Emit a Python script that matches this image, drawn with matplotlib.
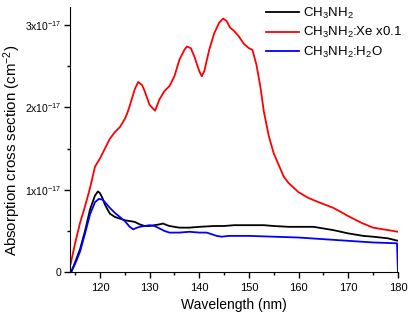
import numpy as np
import matplotlib.pyplot as plt
from matplotlib.ticker import MultipleLocator, FixedLocator

plt.rcParams['font.family'] = ['Liberation Sans', 'DejaVu Sans']
plt.rcParams['mathtext.fontset'] = 'custom'
plt.rcParams['mathtext.rm'] = 'Liberation Sans'
plt.rcParams['mathtext.it'] = 'Liberation Sans'

SCALE = 1e-17

# CH3NH2 (units of 1e-17 cm^2)
wl_black = [114.2, 115, 116, 117, 118, 119, 119.6, 120, 120.5, 121, 122, 123, 124, 125, 126, 127,
            128, 129, 130, 131, 132, 132.7, 133.5, 134, 136, 138, 140, 143, 145, 147, 150, 153,
            155, 158, 160, 163, 165, 167, 170, 173, 175, 178, 180]
xs_black = [0.0, 0.12, 0.28, 0.5, 0.76, 0.93, 0.98, 0.96, 0.9, 0.82, 0.71, 0.67, 0.65, 0.63, 0.62, 0.61,
            0.58, 0.56, 0.56, 0.57, 0.58, 0.59, 0.57, 0.56, 0.54, 0.54, 0.55, 0.56, 0.56, 0.57, 0.57, 0.57,
            0.56, 0.55, 0.55, 0.55, 0.53, 0.51, 0.47, 0.44, 0.43, 0.41, 0.38]

# CH3NH2:Xe x0.1
wl_red = [114.1, 115, 116, 117, 118, 119, 119.5, 120, 121, 122, 123, 124, 125, 125.5, 126, 127,
          127.7, 128.5, 129, 130, 131.1, 132, 133, 134, 135, 136, 137, 137.5, 138.3, 139, 140,
          140.5, 141, 142, 143, 144, 144.8, 145.5, 146.2, 147, 148, 149, 150, 150.7, 151.5, 152.3,
          153, 154, 155, 156, 157, 158, 160, 162, 164, 167, 170, 172.6, 175, 177, 180]
xs_red = [0.1, 0.35, 0.6, 0.8, 1.02, 1.28, 1.33, 1.38, 1.5, 1.62, 1.7, 1.76, 1.86, 1.93, 2.02, 2.22,
          2.31, 2.27, 2.2, 2.03, 1.96, 2.1, 2.2, 2.26, 2.38, 2.58, 2.7, 2.74, 2.72, 2.62, 2.44,
          2.38, 2.44, 2.7, 2.9, 3.03, 3.08, 3.05, 2.97, 2.93, 2.86, 2.77, 2.72, 2.7, 2.52, 2.25,
          1.95, 1.65, 1.44, 1.3, 1.16, 1.08, 0.97, 0.9, 0.85, 0.78, 0.68, 0.6, 0.54, 0.52, 0.49]

# CH3NH2:H2O
wl_blue = [114.2, 115, 116, 117, 118, 119, 119.8, 120.5, 121, 122, 123, 124, 125, 126, 126.7, 127.5,
           128, 129, 130, 131, 132, 133, 134, 136, 138, 140, 141.5, 142.5, 143.5, 144.5, 146, 150,
           155, 160, 165, 170, 175, 179.8, 180]
xs_blue = [0.0, 0.1, 0.25, 0.47, 0.7, 0.85, 0.89, 0.88, 0.85, 0.78, 0.72, 0.67, 0.62, 0.55, 0.52, 0.54,
           0.55, 0.56, 0.57, 0.56, 0.53, 0.5, 0.48, 0.48, 0.49, 0.48, 0.48, 0.46, 0.44, 0.43, 0.44, 0.44,
           0.43, 0.42, 0.4, 0.38, 0.36, 0.35, 0.0]

fig = plt.figure(figsize=(4.15, 3.19), dpi=100)
ax = fig.add_axes([0.169, 0.147, 0.79, 0.831])

ax.plot(wl_black, np.array(xs_black) * SCALE, color='black', lw=1.3, label='CH$_3$NH$_2$')
ax.plot(wl_red, np.array(xs_red) * SCALE, color='#ff0000', lw=1.3, label='CH$_3$NH$_2$:Xe x0.1')
ax.plot(wl_blue, np.array(xs_blue) * SCALE, color='#0000ff', lw=1.3, label='CH$_3$NH$_2$:H$_2$O')

ax.set_xlim(114, 180)
ax.set_ylim(0, 3.22e-17)
ax.xaxis.set_minor_locator(MultipleLocator(5))
ax.set_xticks([120, 130, 140, 150, 160, 170, 180])
ax.yaxis.set_major_locator(FixedLocator([0, 1e-17, 2e-17, 3e-17]))
ax.yaxis.set_minor_locator(FixedLocator([0.5e-17, 1.5e-17, 2.5e-17]))
ax.set_yticklabels(['0', '1x10$^{-17}$', '2x10$^{-17}$', '3x10$^{-17}$'])

for s in ['top', 'right']:
    ax.spines[s].set_visible(False)
ax.tick_params(which='major', direction='out', length=4, width=1, labelsize=8)
ax.tick_params(axis='y', which='major', labelsize=7.5, pad=2)
ax.tick_params(which='minor', direction='out', length=2.5, width=1)

ax.set_xlabel('Wavelength (nm)', fontsize=10, labelpad=4)
ax.set_ylabel('Absorption cross section (cm$^{-2}$)', fontsize=10.8)
ax.yaxis.set_label_coords(-0.145, 0.46)

ax.legend(loc='upper right', frameon=False, fontsize=9.5, handlelength=2.5,
          handletextpad=0.3, labelspacing=0.35, borderaxespad=0.0, bbox_to_anchor=(1.03, 1.025))

fig.savefig('out.png', dpi=100)
